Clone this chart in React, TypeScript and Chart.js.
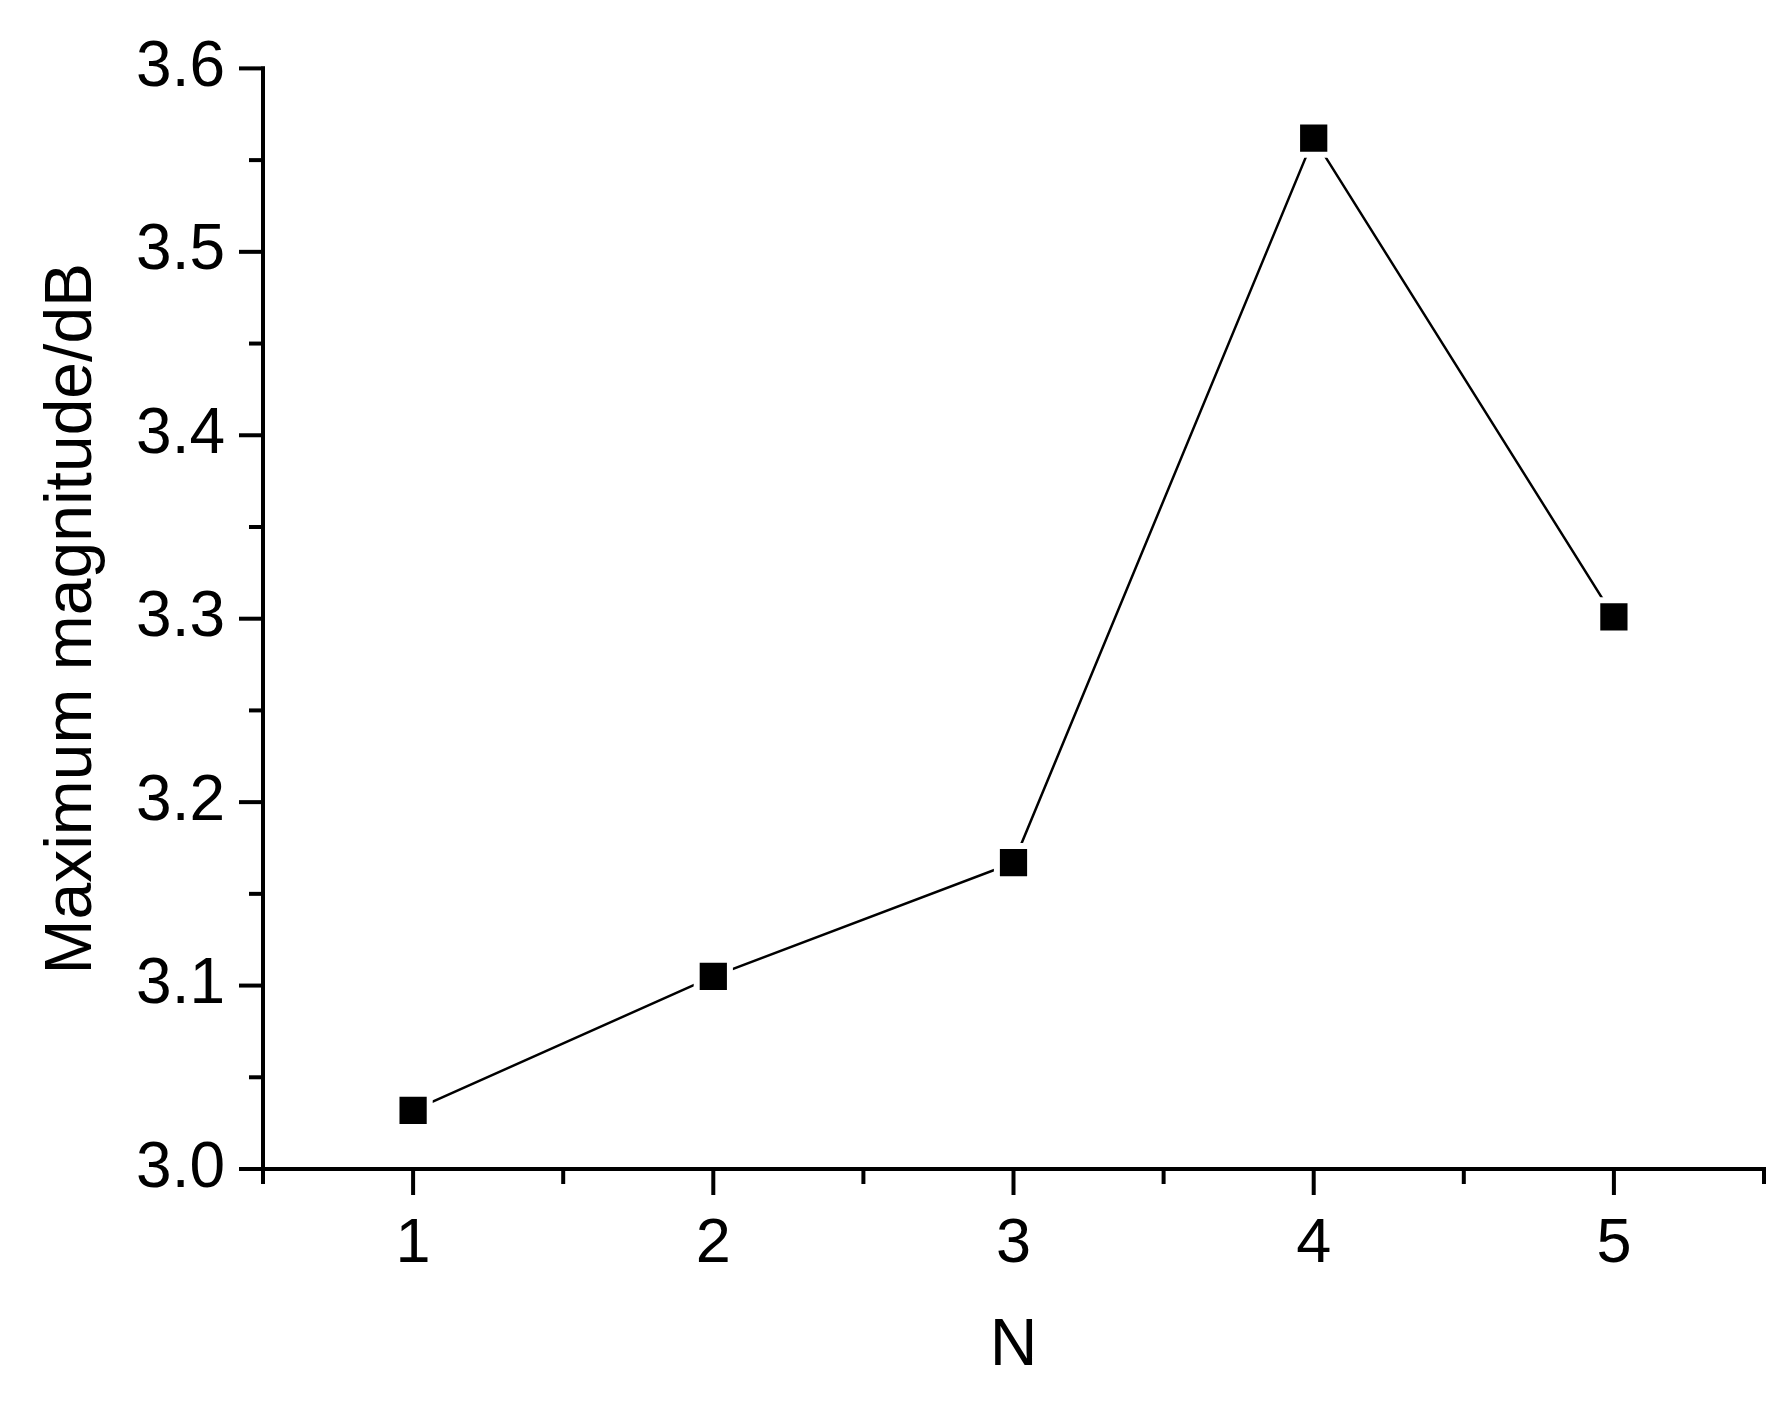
import React, { useEffect, useRef } from 'react';
import { Chart, registerables } from 'chart.js';

Chart.register(...registerables);

const categories = [1, 2, 3, 4, 5];
const maxMagnitude = [3.032, 3.105, 3.167, 3.562, 3.301];
const xTicks = [1, 2, 3, 4, 5];
const xMinorTicks = [0.5, 1.5, 2.5, 3.5, 4.5, 5.5];
const yTicks = [3.0, 3.1, 3.2, 3.3, 3.4, 3.5, 3.6];
const yMinorTicks = [3.05, 3.15, 3.25, 3.35, 3.45, 3.55];

const FONT = 'Liberation Sans, Arial, sans-serif';

const axesPlugin = {
  id: 'originAxes',
  afterDatasetsDraw(chart: any) {
    const { ctx, scales } = chart;
    const x = scales.x;
    const y = scales.y;
    const left = x.getPixelForValue(0.5);
    const right = x.getPixelForValue(5.5);
    const bottom = y.getPixelForValue(3.0);
    const top = y.getPixelForValue(3.6);
    ctx.save();
    ctx.strokeStyle = '#000';
    ctx.lineWidth = 4;
    ctx.lineCap = 'square';
    const line = (x1: number, y1: number, x2: number, y2: number) => {
      ctx.beginPath();
      ctx.moveTo(x1, y1);
      ctx.lineTo(x2, y2);
      ctx.stroke();
    };
    line(left, top, left, bottom);
    line(left, bottom, right, bottom);
    yTicks.forEach((v) => {
      const py = y.getPixelForValue(v);
      line(left - 22, py, left, py);
    });
    yMinorTicks.forEach((v) => {
      const py = y.getPixelForValue(v);
      line(left - 12, py, left, py);
    });
    xTicks.forEach((v) => {
      const px = x.getPixelForValue(v);
      line(px, bottom, px, bottom + 24);
    });
    xMinorTicks.forEach((v) => {
      const px = x.getPixelForValue(v);
      line(px, bottom, px, bottom + 13);
    });
    ctx.restore();
  },
};

export default function App() {
  const canvasRef = useRef<HTMLCanvasElement | null>(null);

  useEffect(() => {
    const canvas = canvasRef.current;
    if (!canvas) return;
    const chart = new Chart(canvas, {
      type: 'line',
      data: {
        datasets: [
          {
            label: 'Maximum magnitude',
            data: categories.map((c, i) => ({ x: c, y: maxMagnitude[i] })),
            borderColor: '#000',
            borderWidth: 2.5,
            backgroundColor: '#000',
            pointStyle: 'rect',
            pointRadius: 23.5,
            pointBackgroundColor: '#000',
            pointBorderColor: '#fff',
            pointBorderWidth: 6,
            tension: 0,
            fill: false,
            clip: false,
          },
        ],
      },
      options: {
        animation: false,
        responsive: false,
        maintainAspectRatio: false,
        events: [],
        layout: { autoPadding: false, padding: { top: 67, right: 21, left: 0, bottom: 0 } },
        plugins: {
          legend: { display: false },
          tooltip: { enabled: false },
        },
        scales: {
          x: {
            type: 'linear',
            min: 0.5,
            max: 5.5,
            afterBuildTicks: (s: any) => {
              s.ticks = xTicks.map((v) => ({ value: v }));
            },
            afterFit: (s: any) => {
              s.height = 235;
            },
            grid: { display: false },
            border: { display: false },
            ticks: {
              autoSkip: false,
              maxRotation: 0,
              color: '#000',
              padding: 30,
              font: { family: FONT, size: 63 },
              callback: (v: any) => String(v),
            },
            title: {
              display: true,
              text: 'N',
              color: '#000',
              font: { family: FONT, size: 66 },
              padding: { top: 0, bottom: 18 },
            },
          },
          y: {
            type: 'linear',
            min: 3.0,
            max: 3.6,
            afterBuildTicks: (s: any) => {
              s.ticks = yTicks.map((v) => ({ value: v }));
            },
            afterFit: (s: any) => {
              s.width = 263;
            },
            grid: { display: false },
            border: { display: false },
            ticks: {
              autoSkip: false,
              color: '#000',
              padding: 30,
              font: { family: FONT, size: 64 },
              callback: (v: any) => Number(v).toFixed(1),
            },
            title: {
              display: true,
              text: 'Maximum magnitude/dB',
              color: '#000',
              font: { family: FONT, size: 66 },
              padding: { top: 33, bottom: 0 },
            },
          },
        },
      },
      plugins: [axesPlugin],
    } as any);
    return () => chart.destroy();
  }, []);

  return (
    <div style={{ position: 'fixed', left: 0, top: 0, width: 1785, height: 1404, background: '#fff' }}>
      <canvas ref={canvasRef} width={1785} height={1404} style={{ display: 'block' }} />
    </div>
  );
}
